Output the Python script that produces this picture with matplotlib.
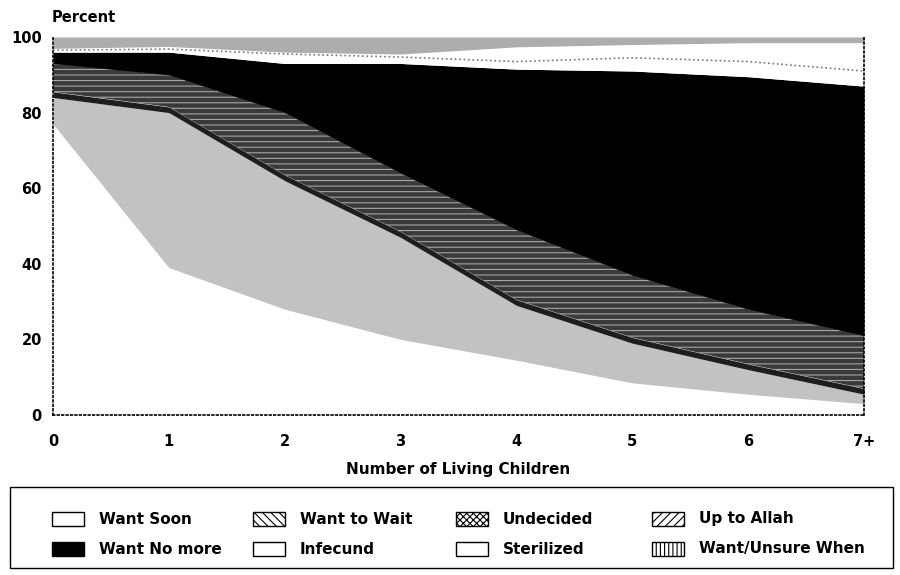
import matplotlib
matplotlib.use("Agg")
import matplotlib.pyplot as plt
import numpy as np
from matplotlib.patches import Rectangle

plt.rcParams["font.family"] = ["DejaVu Sans"]
plt.rcParams["hatch.linewidth"] = 0.8

# Number of living children (categories on the x axis)
children = ["0", "1", "2", "3", "4", "5", "6", "7+"]

# Percent of women in each category
want_soon = [77.0, 39.0, 28.0, 20.0, 14.5, 8.5, 5.5, 3.0]
want_to_wait = [7.0, 41.0, 34.0, 27.0, 14.5, 10.5, 6.5, 2.5]
undecided = [1.5, 1.5, 1.5, 1.5, 1.5, 1.5, 1.5, 1.5]
up_to_allah = [7.5, 8.5, 16.5, 15.5, 18.5, 16.5, 14.5, 14.0]
want_no_more = [3.0, 6.0, 13.0, 29.0, 42.5, 54.0, 61.5, 66.0]
infecund = [0.5, 0.8, 2.5, 1.7, 2.0, 3.5, 4.0, 4.0]
sterilized = [0.5, 0.7, 0.5, 0.8, 3.9, 3.5, 5.0, 7.5]
want_unsure_when = [3.0, 2.5, 4.0, 4.5, 2.6, 2.0, 1.5, 1.5]

# name, values, chart fill, chart hatch, hatch colour
series = [
    ("Want Soon", want_soon, "white", None, "white"),
    ("Want to Wait", want_to_wait, "#c2c2c2", None, "#c2c2c2"),
    ("Undecided", undecided, "#1e1e1e", None, "#1e1e1e"),
    ("Up to Allah", up_to_allah, "#3a3a3a", "---", "#a5a5a5"),
    ("Want No more", want_no_more, "black", None, "black"),
    ("Infecund", infecund, "white", None, "white"),
    ("Sterilized", sterilized, "white", None, "white"),
    ("Want/Unsure When", want_unsure_when, "#adadad", None, "#adadad"),
]

# legend look (as printed in the key, not the halftone in the plot)
legend_rows = [
    [("Want Soon", "white", None), ("Want to Wait", "white", "\\\\\\\\"),
     ("Undecided", "white", "xxxxx"), ("Up to Allah", "white", "////")],
    [("Want No more", "black", None), ("Infecund", "white", None),
     ("Sterilized", "white", None), ("Want/Unsure When", "white", "||||")],
]

fig = plt.figure(figsize=(9, 5.75), dpi=100)
ax = fig.add_axes([53 / 900, 1 - 415 / 575, 811 / 900, 378 / 575])

x = np.arange(len(children))
base = np.zeros(len(children))
for name, vals, face, hatch, edge in series:
    top = base + np.array(vals)
    ax.fill_between(x, base, top, facecolor=face, edgecolor=edge,
                    hatch=hatch, linewidth=0)
    base = top

# faint dotted edge where the two white bands meet
b_inf = np.sum([want_soon, want_to_wait, undecided, up_to_allah,
                want_no_more, infecund], axis=0)
ax.plot(x, b_inf, color="#777777", linestyle=":", linewidth=1.2)

ax.set_xlim(0, 7)
ax.set_ylim(0, 100)
ax.set_xticks(x)
ax.set_xticklabels(children)
ax.set_yticks([0, 20, 40, 60, 80, 100])
ax.tick_params(length=0, labelsize=10.5)
ax.tick_params(axis="x", pad=14)
ax.tick_params(axis="y", pad=8)
for lab in ax.get_xticklabels() + ax.get_yticklabels():
    lab.set_fontweight("bold")
for side in ["left", "bottom", "right"]:
    ax.spines[side].set_linestyle(":")
    ax.spines[side].set_linewidth(1.2)
ax.spines["top"].set_visible(False)

ax.set_xlabel("Number of Living Children", fontsize=11, fontweight="bold",
              labelpad=9)
fig.text(52 / 900, 1 - 18 / 575, "Percent", fontsize=10.5, fontweight="bold",
         va="center", ha="left")

# key drawn in figure pixel space
kax = fig.add_axes([0, 0, 1, 1], zorder=5)
kax.set_xlim(0, 900)
kax.set_ylim(575, 0)
kax.axis("off")
kax.add_patch(Rectangle((10, 487), 883, 81, facecolor="white",
                        edgecolor="black", linewidth=1.0))
col_x = [52, 253, 456, 652]
row_y = [519, 549]
for r, row in enumerate(legend_rows):
    for c, (label, face, hatch) in enumerate(row):
        kax.add_patch(Rectangle((col_x[c], row_y[r] - 7), 32, 14,
                                facecolor=face, edgecolor="black",
                                hatch=hatch, linewidth=1.0))
        kax.text(col_x[c] + 47, row_y[r], label, fontsize=11,
                 fontweight="bold", va="center", ha="left")

fig.savefig("out.png", dpi=100)
